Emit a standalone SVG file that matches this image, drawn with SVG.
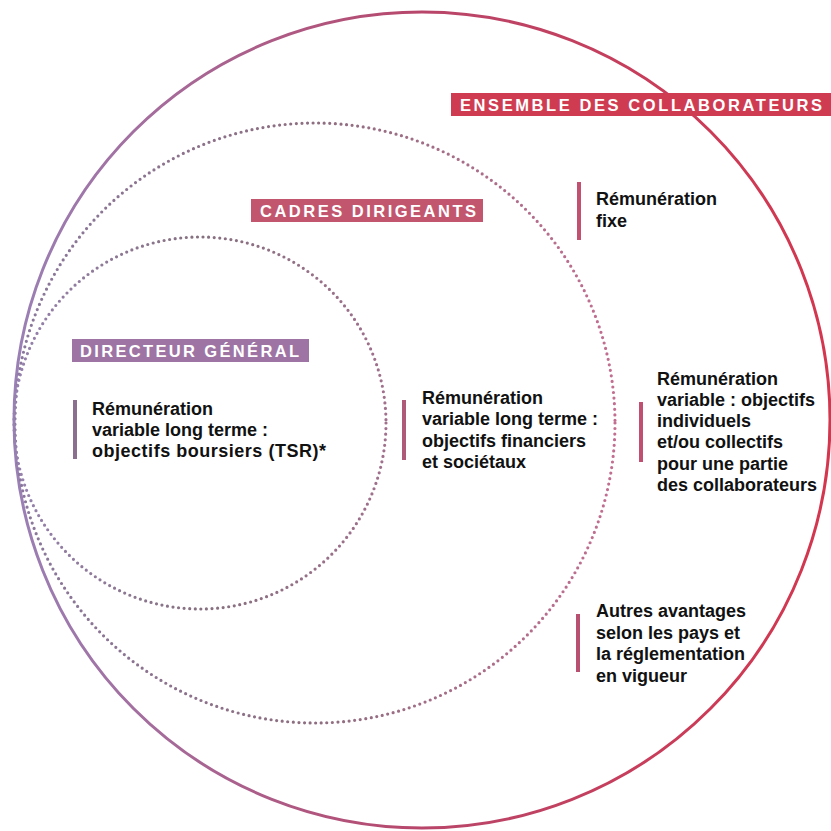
<svg xmlns="http://www.w3.org/2000/svg" width="831" height="831" viewBox="0 0 831 831">
<defs>
<linearGradient id="gBig" gradientUnits="userSpaceOnUse" x1="14" y1="0" x2="830" y2="0">
<stop offset="0" stop-color="#9a80b6"/>
<stop offset="0.5" stop-color="#b8466a"/>
<stop offset="1" stop-color="#d4364e"/>
</linearGradient>
<linearGradient id="gMid" gradientUnits="userSpaceOnUse" x1="15" y1="0" x2="615" y2="0">
<stop offset="0" stop-color="#8a789c"/>
<stop offset="0.5" stop-color="#8e6e80"/>
<stop offset="1" stop-color="#c26e90"/>
</linearGradient>
<linearGradient id="gIn" gradientUnits="userSpaceOnUse" x1="14" y1="0" x2="386" y2="0">
<stop offset="0" stop-color="#9682ae"/>
<stop offset="0.5" stop-color="#86707f"/>
<stop offset="1" stop-color="#a0708c"/>
</linearGradient>
</defs>
<style>
.dot{fill:none;stroke-width:3.2;stroke-linecap:round;stroke-dasharray:0 5.6}
.lbl{font-family:"Liberation Sans",Arial,sans-serif;font-weight:bold;font-size:16.5px;fill:#ffffff}
.txt{font-family:"Liberation Sans",Arial,sans-serif;font-weight:bold;font-size:18px;fill:#111111}
</style>
<rect x="0" y="0" width="831" height="831" fill="#ffffff"/>
<g id="connectors"></g>
<g id="ensemble">
<circle cx="422" cy="420" r="408" fill="none" stroke="url(#gBig)" stroke-width="3"/>
</g>
<g id="cadres">
<circle class="dot" cx="315" cy="423" r="300" stroke="url(#gMid)"/>
</g>
<g id="directeur">
<circle class="dot" cx="200" cy="423" r="186" stroke="url(#gIn)"/>
</g>
<g id="label-ensemble">
<rect x="451" y="93" width="380" height="23" fill="#cf3c52"/>
<text class="lbl" x="460" y="111" textLength="362" lengthAdjust="spacing">ENSEMBLE DES COLLABORATEURS</text>
</g>
<g id="label-cadres">
<rect x="251" y="199" width="232" height="23" fill="#c2566f"/>
<text class="lbl" x="260" y="217" textLength="216" lengthAdjust="spacing">CADRES DIRIGEANTS</text>
</g>
<g id="label-directeur">
<rect x="72" y="339" width="237" height="23" fill="#9d74a4"/>
<text class="lbl" x="80" y="357" textLength="219" lengthAdjust="spacing">DIRECTEUR GÉNÉRAL</text>
</g>
<g id="item-tsr">
<rect x="73" y="400" width="4" height="59" fill="#8a6f8e"/>
<text class="txt" x="92" y="415">Rémunération</text>
<text class="txt" x="92" y="436">variable long terme :</text>
<text class="txt" x="92" y="457" textLength="234" lengthAdjust="spacing">objectifs boursiers (TSR)*</text>
</g>
<g id="item-lt">
<rect x="402" y="400" width="4" height="60" fill="#b05a7a"/>
<text class="txt" x="422" y="404">Rémunération</text>
<text class="txt" x="422" y="425">variable long terme :</text>
<text class="txt" x="422" y="447">objectifs financiers</text>
<text class="txt" x="422" y="468">et sociétaux</text>
</g>
<g id="item-fixe">
<rect x="577" y="182" width="4" height="58" fill="#c25070"/>
<text class="txt" x="596" y="205">Rémunération</text>
<text class="txt" x="596" y="227">fixe</text>
</g>
<g id="item-variable">
<rect x="639" y="402" width="4" height="60" fill="#c05072"/>
<text class="txt" x="657" y="385">Rémunération</text>
<text class="txt" x="657" y="406">variable : objectifs</text>
<text class="txt" x="657" y="427">individuels</text>
<text class="txt" x="657" y="448">et/ou collectifs</text>
<text class="txt" x="657" y="470">pour une partie</text>
<text class="txt" x="657" y="491">des collaborateurs</text>
</g>
<g id="item-autres">
<rect x="576" y="614" width="4" height="58" fill="#b85072"/>
<text class="txt" x="596" y="617">Autres avantages</text>
<text class="txt" x="596" y="639">selon les pays et</text>
<text class="txt" x="596" y="660">la réglementation</text>
<text class="txt" x="596" y="682">en vigueur</text>
</g>
</svg>
